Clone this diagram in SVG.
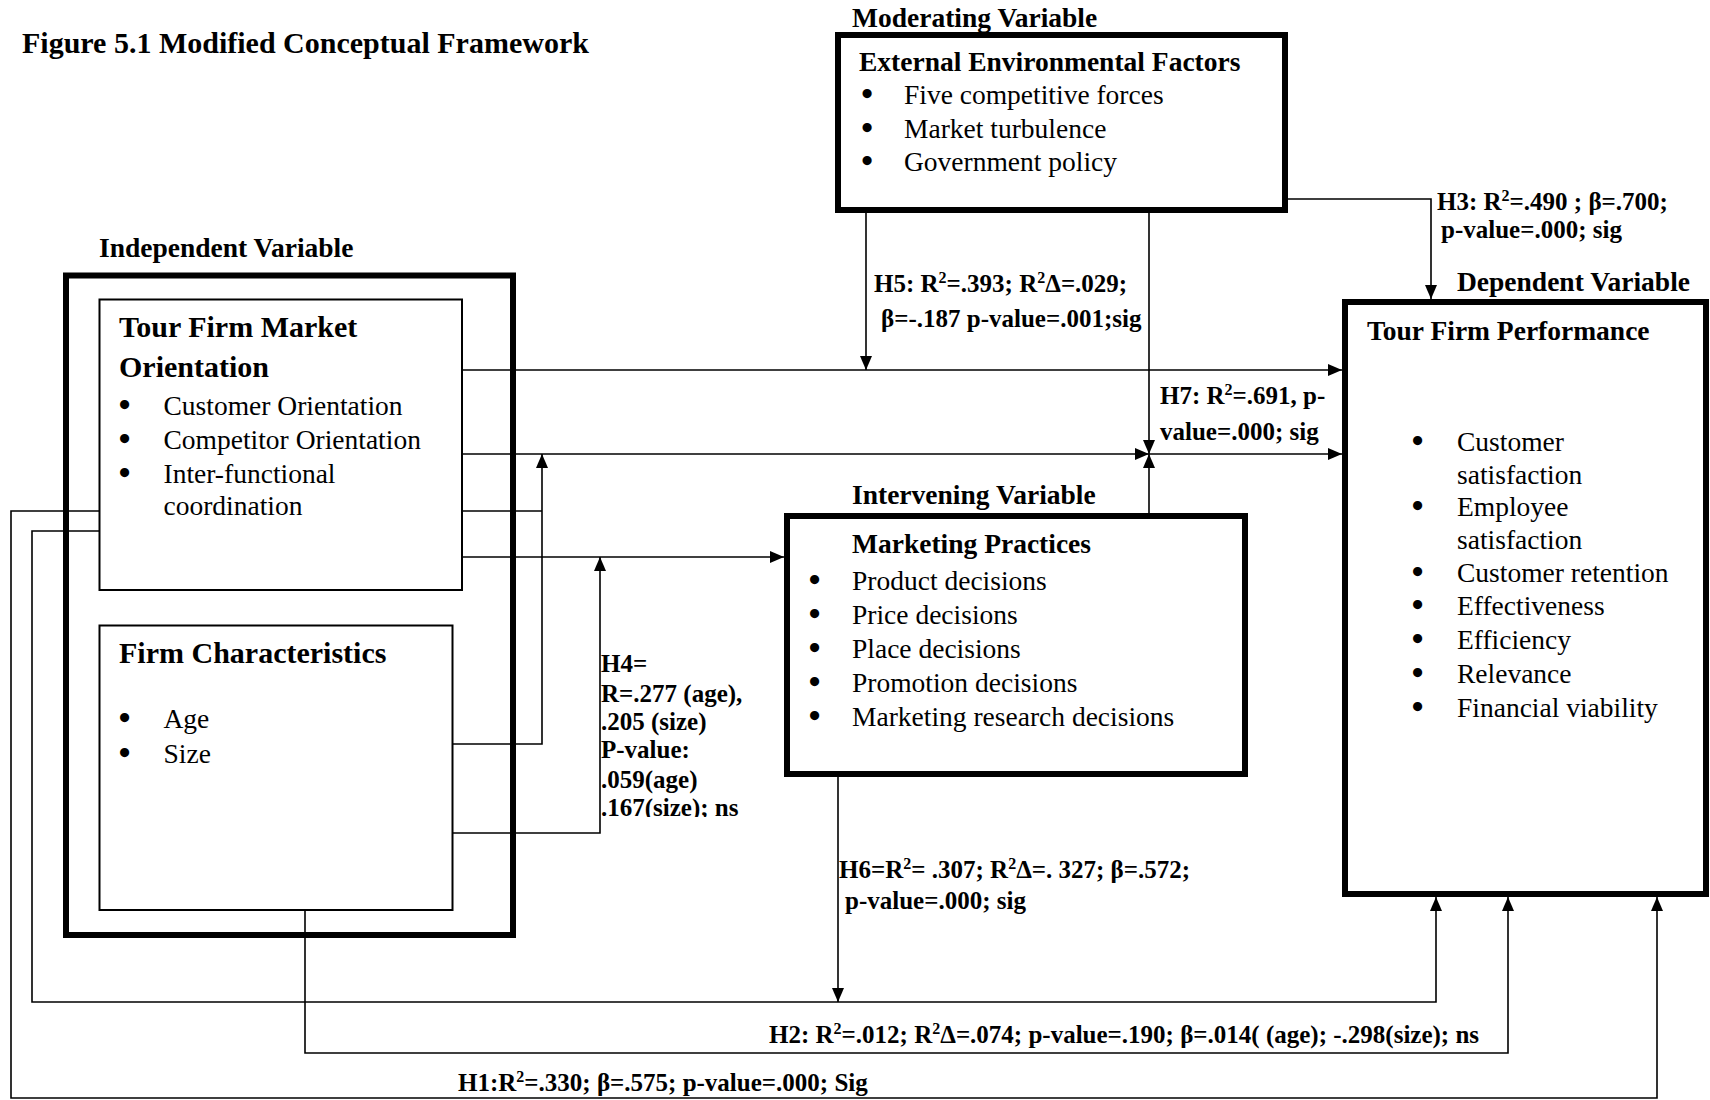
<svg xmlns="http://www.w3.org/2000/svg" width="1710" height="1100" viewBox="0 0 1710 1100">
<style>
text { font-family: "Liberation Serif", "Times New Roman", serif; fill: #000; }
.t { font-weight: bold; font-size: 30px; }
.h { font-weight: bold; font-size: 30px; }
.b { font-weight: bold; font-size: 27.5px; }
.r { font-size: 27.5px; }
.bu { font-size: 29px; stroke: #000; stroke-width: 2.2; }
.l { font-weight: bold; font-size: 25px; }
.sup { font-size: 16px; }
.thick { fill: none; stroke: #000; stroke-width: 6; }
.thin { fill: none; stroke: #000; stroke-width: 2; }
.conn { fill: none; stroke: #000; stroke-width: 1.6; }
</style>
<defs>
<marker id="arr" viewBox="0 0 14 12" refX="14" refY="6" markerWidth="14" markerHeight="12" markerUnits="userSpaceOnUse" orient="auto">
<path d="M0,0 L14,6 L0,12 z" fill="#000"/>
</marker>
<clipPath id="h4clip"><rect x="590" y="640" width="220" height="177"/></clipPath>
</defs>
<rect width="1710" height="1100" fill="#fff"/>

<text class="t" x="22" y="53">Figure 5.1 Modified Conceptual Framework</text>

<g id="moderating">
<text class="b" x="852" y="27">Moderating Variable</text>
<rect class="thick" x="838" y="35" width="447" height="175"/>
<text class="b" x="859" y="71">External Environmental Factors</text>
<text class="bu" x="862" y="104">•</text><text class="r" x="904" y="104">Five competitive forces</text>
<text class="bu" x="862" y="138">•</text><text class="r" x="904" y="138">Market turbulence</text>
<text class="bu" x="862" y="171">•</text><text class="r" x="904" y="171">Government policy</text>
</g>

<g id="independent">
<text class="b" x="99" y="257">Independent Variable</text>
<rect class="thick" x="66" y="275.5" width="447" height="659.5"/>
</g>

<g id="market-orientation">
<rect class="thin" x="99.5" y="299.5" width="362.5" height="290.5"/>
<text class="h" x="119" y="337">Tour Firm Market</text>
<text class="h" x="119" y="377">Orientation</text>
<text class="bu" x="119.5" y="415">•</text><text class="r" x="163.5" y="415">Customer Orientation</text>
<text class="bu" x="119.5" y="448.5">•</text><text class="r" x="163.5" y="448.5">Competitor Orientation</text>
<text class="bu" x="119.5" y="482.5">•</text><text class="r" x="163.5" y="482.5">Inter-functional</text>
<text class="r" x="163.5" y="515">coordination</text>
</g>

<g id="firm-characteristics">
<rect class="thin" x="99.5" y="625.5" width="353" height="284.5"/>
<text class="h" x="119" y="663">Firm Characteristics</text>
<text class="bu" x="119.5" y="728">•</text><text class="r" x="163.5" y="728">Age</text>
<text class="bu" x="119.5" y="763">•</text><text class="r" x="163.5" y="763">Size</text>
</g>

<g id="intervening">
<text class="b" x="852" y="504">Intervening Variable</text>
<rect class="thick" x="787" y="516" width="458" height="258"/>
<text class="b" x="852" y="553">Marketing Practices</text>
<text class="bu" x="809.5" y="590">•</text><text class="r" x="852" y="590">Product decisions</text>
<text class="bu" x="809.5" y="624">•</text><text class="r" x="852" y="624">Price decisions</text>
<text class="bu" x="809.5" y="658">•</text><text class="r" x="852" y="658">Place decisions</text>
<text class="bu" x="809.5" y="692">•</text><text class="r" x="852" y="692">Promotion decisions</text>
<text class="bu" x="809.5" y="726">•</text><text class="r" x="852" y="726">Marketing research decisions</text>
</g>

<g id="dependent">
<text class="b" x="1457" y="291">Dependent Variable</text>
<rect class="thick" x="1345" y="302" width="361" height="592"/>
<text class="b" x="1367" y="340">Tour Firm Performance</text>
<text class="bu" x="1412.5" y="451">•</text><text class="r" x="1457" y="451">Customer</text>
<text class="r" x="1457" y="484">satisfaction</text>
<text class="bu" x="1412.5" y="516">•</text><text class="r" x="1457" y="516">Employee</text>
<text class="r" x="1457" y="549">satisfaction</text>
<text class="bu" x="1412.5" y="582">•</text><text class="r" x="1457" y="582">Customer retention</text>
<text class="bu" x="1412.5" y="615">•</text><text class="r" x="1457" y="615">Effectiveness</text>
<text class="bu" x="1412.5" y="649">•</text><text class="r" x="1457" y="649">Efficiency</text>
<text class="bu" x="1412.5" y="683">•</text><text class="r" x="1457" y="683">Relevance</text>
<text class="bu" x="1412.5" y="717">•</text><text class="r" x="1457" y="717">Financial viability</text>
</g>

<g id="connectors">
<path class="conn" d="M462,370 H1342" marker-end="url(#arr)"/>
<path class="conn" d="M866,213 V370" marker-end="url(#arr)"/>
<path class="conn" d="M1149,213 V454" marker-end="url(#arr)"/>
<path class="conn" d="M462,454 H1149" marker-end="url(#arr)"/>
<path class="conn" d="M1149,454 H1342" marker-end="url(#arr)"/>
<path class="conn" d="M1149,513 V454" marker-end="url(#arr)"/>
<path class="conn" d="M462,511 H542"/>
<path class="conn" d="M453,744 H542 V454" marker-end="url(#arr)"/>
<path class="conn" d="M462,557 H784" marker-end="url(#arr)"/>
<path class="conn" d="M453,833 H600 V557" marker-end="url(#arr)"/>
<path class="conn" d="M838,777 V1002" marker-end="url(#arr)"/>
<path class="conn" d="M99,531 H32 V1002 H1436 V897" marker-end="url(#arr)"/>
<path class="conn" d="M305,910 V1053 H1508 V897" marker-end="url(#arr)"/>
<path class="conn" d="M99,511 H11 V1098 H1657 V897" marker-end="url(#arr)"/>
<path class="conn" d="M1288,199 H1431 V299" marker-end="url(#arr)"/>
</g>

<g id="labels">
<text class="l" x="1437" y="210">H3: R<tspan class="sup" dy="-9">2</tspan><tspan dy="9">=.490 ; β=.700;</tspan></text>
<text class="l" x="1441" y="238">p-value=.000; sig</text>
<text class="l" x="874" y="292">H5: R<tspan class="sup" dy="-9">2</tspan><tspan dy="9">=.393; R</tspan><tspan class="sup" dy="-9">2</tspan><tspan dy="9">Δ=.029;</tspan></text>
<text class="l" x="881" y="327">β=-.187 p-value=.001;sig</text>
<text class="l" x="1160" y="404">H7: R<tspan class="sup" dy="-9">2</tspan><tspan dy="9">=.691, p-</tspan></text>
<text class="l" x="1160" y="440">value=.000; sig</text>
<g clip-path="url(#h4clip)">
<text class="l" x="601" y="672">H4=</text>
<text class="l" x="601" y="702">R=.277 (age),</text>
<text class="l" x="601" y="730">.205 (size)</text>
<text class="l" x="601" y="758">P-value:</text>
<text class="l" x="601" y="788">.059(age)</text>
<text class="l" x="601" y="816">.167(size); ns</text>
</g>
<text class="l" x="839" y="878">H6=R<tspan class="sup" dy="-9">2</tspan><tspan dy="9">= .307; R</tspan><tspan class="sup" dy="-9">2</tspan><tspan dy="9">Δ=. 327; β=.572;</tspan></text>
<text class="l" x="845" y="909">p-value=.000; sig</text>
<text class="l" x="769" y="1043">H2: R<tspan class="sup" dy="-9">2</tspan><tspan dy="9">=.012; R</tspan><tspan class="sup" dy="-9">2</tspan><tspan dy="9">Δ=.074; p-value=.190; β=.014( (age); -.298(size); ns</tspan></text>
<text class="l" x="458" y="1091">H1:R<tspan class="sup" dy="-9">2</tspan><tspan dy="9">=.330; β=.575;  p-value=.000; Sig</tspan></text>
</g>
</svg>
